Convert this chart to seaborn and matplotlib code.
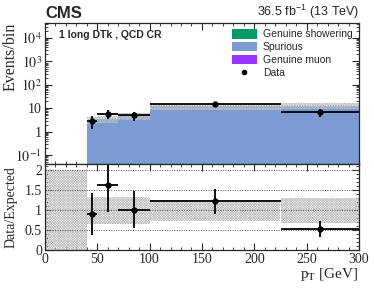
import numpy as np
import pandas as pd
import matplotlib
matplotlib.use("Agg")
import matplotlib.pyplot as plt
import seaborn as sns
from matplotlib.patches import Patch
from matplotlib.lines import Line2D
from matplotlib.ticker import MultipleLocator, LogLocator, FixedLocator, NullFormatter

# данные
bin_edges = [40, 50, 70, 100, 225, 300]
components = ["Genuine showering", "Spurious", "Genuine muon"]
showering = [0.15, 0.20, 0.10, 0.20, 0.10]
spurious = [3.15, 3.45, 4.80, 12.0, 13.1]
muon = [0.0, 0.0, 0.0, 0.0, 0.0]
data_counts = [3, 6, 5, 15, 7]
mc_rel_unc = [0.34, 0.34, 0.34, 0.27, 0.31]
colors = {"Genuine showering": "#009a6a", "Spurious": "#7b9bd2", "Genuine muon": "#9b35ff"}

edges = np.array(bin_edges, dtype=float)
centers = 0.5 * (edges[:-1] + edges[1:])
halfw = 0.5 * np.diff(edges)
mc_total = np.array(showering) + np.array(spurious) + np.array(muon)
data = np.array(data_counts, dtype=float)
derr = np.sqrt(data)
unc = np.array(mc_rel_unc)

rows = []
for name, vals in zip(components, [showering, spurious, muon]):
    for c, v in zip(centers, vals):
        rows.append({"pt": c, "w": v, "comp": name})
df = pd.DataFrame(rows)

sns.set_style("ticks")
plt.rcParams["font.family"] = ["Liberation Serif", "DejaVu Serif"]
plt.rcParams["mathtext.fontset"] = "stix"
plt.rcParams["hatch.linewidth"] = 0.5

HATCH = "x" * 13
HCOL = "#bdbdbd"

fig = plt.figure(figsize=(3.74, 3.01), dpi=100)
ax = fig.add_axes([0.120, 0.4551, 0.840, 0.4685])
rax = fig.add_axes([0.120, 0.1678, 0.840, 0.2873], sharex=ax)

# стек гистограмм
sns.histplot(data=df, x="pt", weights="w", hue="comp", hue_order=components,
             bins=bin_edges, multiple="stack", element="bars", palette=colors,
             alpha=1, linewidth=0, legend=False, ax=ax)
ax.set_yscale("log")

# полоса неопределенности
ax.bar(edges[:-1], 2 * mc_total * unc, width=np.diff(edges),
       bottom=mc_total * (1 - unc), align="edge",
       facecolor="none", edgecolor=HCOL, hatch=HATCH, linewidth=0)

ax.errorbar(centers, data, xerr=halfw, yerr=derr, fmt="o", color="black",
            ms=3.5, elinewidth=1.3, capsize=0)

ax.set_xlim(0, 300)
ax.set_ylim(0.042, 4.4e4)
ax.set_xlabel("")
ax.set_ylabel("Events/bin", fontsize=11.5, loc="top")
ax.yaxis.set_label_coords(-0.083, 1.0)
ax.yaxis.set_major_locator(FixedLocator([0.1, 1, 10, 100, 1e3, 1e4]))
ax.set_yticklabels(["$10^{-1}$", "1", "10", "$10^{2}$", "$10^{3}$", "$10^{4}$"])
ax.yaxis.set_minor_locator(LogLocator(base=10, subs=np.arange(2, 10), numticks=20))
ax.yaxis.set_minor_formatter(NullFormatter())

# отношение
ratio = data / mc_total
rerr = derr / mc_total
rax.bar(0, 2, width=40, bottom=0, align="edge", facecolor="none",
        edgecolor=HCOL, hatch=HATCH, linewidth=0)
rax.bar(edges[:-1], 2 * unc, width=np.diff(edges), bottom=1 - unc, align="edge",
        facecolor="none", edgecolor=HCOL, hatch=HATCH, linewidth=0)
for yv in [0.5, 1, 1.5, 2]:
    rax.axhline(yv, color="#555555", ls=(0, (1, 1.5)), lw=0.7)
rax.errorbar(centers, ratio, xerr=halfw, yerr=rerr, fmt="o", color="black",
             ms=3.5, elinewidth=1.3, capsize=0)
rax.set_ylim(0, 2.16)
rax.set_yticks([0, 0.5, 1, 1.5, 2])
rax.set_yticklabels(["0", "0.5", "1", "1.5", "2"])
rax.set_ylabel("Data/Expected", fontsize=10)
rax.yaxis.set_label_coords(-0.088, 0.5)
rax.set_xlabel("p$_\\mathrm{T}$ [GeV]", fontsize=11, loc="right", labelpad=0)
rax.xaxis.set_major_locator(MultipleLocator(50))
rax.xaxis.set_minor_locator(MultipleLocator(10))
rax.yaxis.set_minor_locator(MultipleLocator(0.1))

for a in (ax, rax):
    a.tick_params(which="both", direction="in", top=True, right=True, labelsize=10, pad=2)
    a.tick_params(which="major", length=5, width=0.8)
    a.tick_params(which="minor", length=2.5, width=0.6)
    for s in a.spines.values():
        s.set_linewidth(0.9)
ax.tick_params(labelbottom=False)

# подписи
sans = ["Liberation Sans", "DejaVu Sans"]
ax.text(0.0, 1.015, "CMS", transform=ax.transAxes, fontsize=12,
        fontweight="bold", family=sans, ha="left", va="bottom")
ax.text(1.0, 1.015, "36.5 fb$^{\\mathregular{-1}}$ (13 TeV)", transform=ax.transAxes,
        fontsize=9, family=sans, ha="right", va="bottom")
ax.text(0.045, 0.95, "1 long DTk , QCD CR", transform=ax.transAxes, fontsize=7.5,
        fontweight="bold", family=sans, ha="left", va="top")

handles = [Patch(facecolor=colors[c], edgecolor="none", label=c) for c in components]
handles.append(Line2D([], [], marker="o", ls="none", color="black", ms=3, label="Data"))
ax.legend(handles=handles, loc="upper right", bbox_to_anchor=(1.0, 1.0),
          frameon=False, prop={"family": sans, "size": 7.5},
          handlelength=2.4, handleheight=1.0, labelspacing=0.25,
          handletextpad=0.6, borderaxespad=0.2)

fig.savefig("out.png", dpi=100)
